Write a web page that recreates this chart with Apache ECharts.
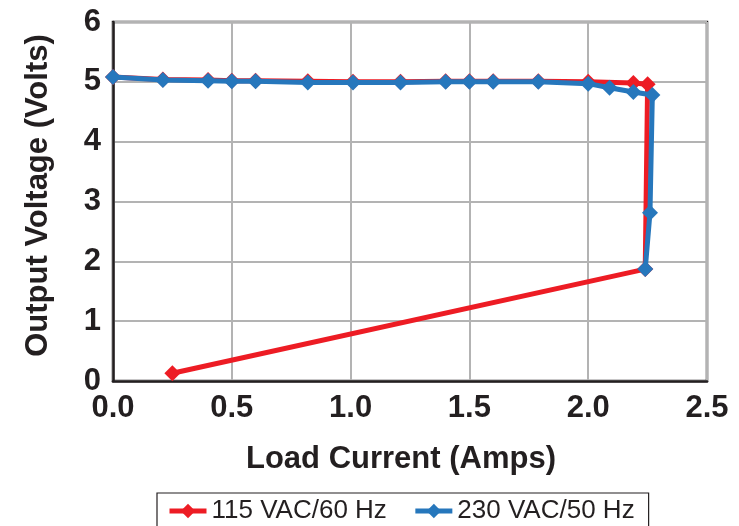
<!DOCTYPE html>
<html>
<head>
<meta charset="utf-8">
<script src="https://cdn.jsdelivr.net/npm/echarts@6/dist/echarts.min.js"></script>
<style>
  html, body { margin: 0; padding: 0; background: #fff; }
  #chart { width: 739px; height: 526px; }
</style>
</head>
<body>
<div id="chart"></div>
<script>
// data
var seriesNames = ['115 VAC/60 Hz', '230 VAC/50 Hz'];

var redCurrent = [0.0, 0.21, 0.40, 0.50, 0.60, 0.82, 1.01, 1.21, 1.40, 1.50, 1.60, 1.79, 2.00, 2.19, 2.25, 2.24, 0.25];
var redVoltage = [5.08, 5.04, 5.03, 5.02, 5.02, 5.01, 5.00, 5.00, 5.01, 5.01, 5.01, 5.01, 5.00, 4.98, 4.96, 1.87, 0.13];

var blueCurrent = [0.0, 0.21, 0.40, 0.50, 0.60, 0.82, 1.01, 1.21, 1.40, 1.50, 1.60, 1.79, 2.00, 2.09, 2.19, 2.27, 2.26, 2.24];
var blueVoltage = [5.08, 5.03, 5.02, 5.01, 5.01, 4.99, 4.99, 4.99, 5.00, 5.00, 5.00, 5.00, 4.97, 4.90, 4.83, 4.78, 2.81, 1.87];

var xTicks = [0.0, 0.5, 1.0, 1.5, 2.0, 2.5];
var yTicks = [0, 1, 2, 3, 4, 5, 6];

function pairs(xs, ys) {
    var out = [];
    for (var i = 0; i < xs.length; i++) out.push([xs[i], ys[i]]);
    return out;
}

var textColor = '#231f20';
var font = '"Liberation Sans", Arial, sans-serif';

var myChart = echarts.init(document.getElementById('chart'));
var option = {
    animation: false,
    textStyle: { fontFamily: font },
    grid: {
        left: 113, top: 22, right: 32, bottom: 145,
        show: true,
        borderColor: textColor,
        borderWidth: 2.5
    },
    legend: {
        data: seriesNames,
        left: 157,
        top: 493,
        padding: [5, 14, 20, 10],
        itemGap: 26,
        itemWidth: 37,
        itemHeight: 18,
        borderColor: textColor,
        borderWidth: 1.2,
        lineStyle: { width: 5 },
        textStyle: { fontSize: 26, color: textColor, fontFamily: font }
    },
    xAxis: {
        type: 'value',
        min: xTicks[0],
        max: xTicks[xTicks.length - 1],
        interval: 0.5,
        name: 'Load Current (Amps)',
        nameLocation: 'middle',
        nameGap: 63,
        nameTextStyle: { fontSize: 31, fontWeight: 'bold', color: textColor, fontFamily: font, padding: [0, 18, 0, 0] },
        axisLine: { show: true, lineStyle: { color: textColor, width: 2.5 } },
        axisTick: { show: false },
        axisLabel: {
            fontSize: 31, fontWeight: 'bold', color: textColor, margin: 12, fontFamily: font,
            formatter: function (v) { return v.toFixed(1); }
        },
        splitLine: { show: true, lineStyle: { color: '#b3b3b3', width: 2 } }
    },
    yAxis: {
        type: 'value',
        min: yTicks[0],
        max: yTicks[yTicks.length - 1],
        interval: 1,
        name: 'Output Voltage (Volts)',
        nameLocation: 'middle',
        nameGap: 59,
        nameTextStyle: { fontSize: 31, fontWeight: 'bold', color: textColor, fontFamily: font, padding: [0, 0, 0, 12] },
        axisLine: { show: true, lineStyle: { color: textColor, width: 2.5 } },
        axisTick: { show: false },
        axisLabel: { fontSize: 31, fontWeight: 'bold', color: textColor, margin: 12, fontFamily: font },
        splitLine: { show: true, lineStyle: { color: '#b3b3b3', width: 2 } }
    },
    series: [
        {
            name: seriesNames[0],
            type: 'line',
            data: pairs(redCurrent, redVoltage),
            symbol: 'diamond',
            symbolSize: 16,
            clip: false,
            color: '#ed1c24',
            lineStyle: { width: 5, color: '#ed1c24' },
            itemStyle: { color: '#ed1c24' },
            z: 2
        },
        {
            name: seriesNames[1],
            type: 'line',
            data: pairs(blueCurrent, blueVoltage),
            symbol: 'diamond',
            symbolSize: 16,
            clip: false,
            color: '#2677bc',
            lineStyle: { width: 5, color: '#2677bc' },
            itemStyle: { color: '#2677bc' },
            z: 3
        }
    ]
};
myChart.setOption(option);
window.addEventListener('resize', function () { myChart.resize(); });
</script>
</body>
</html>
